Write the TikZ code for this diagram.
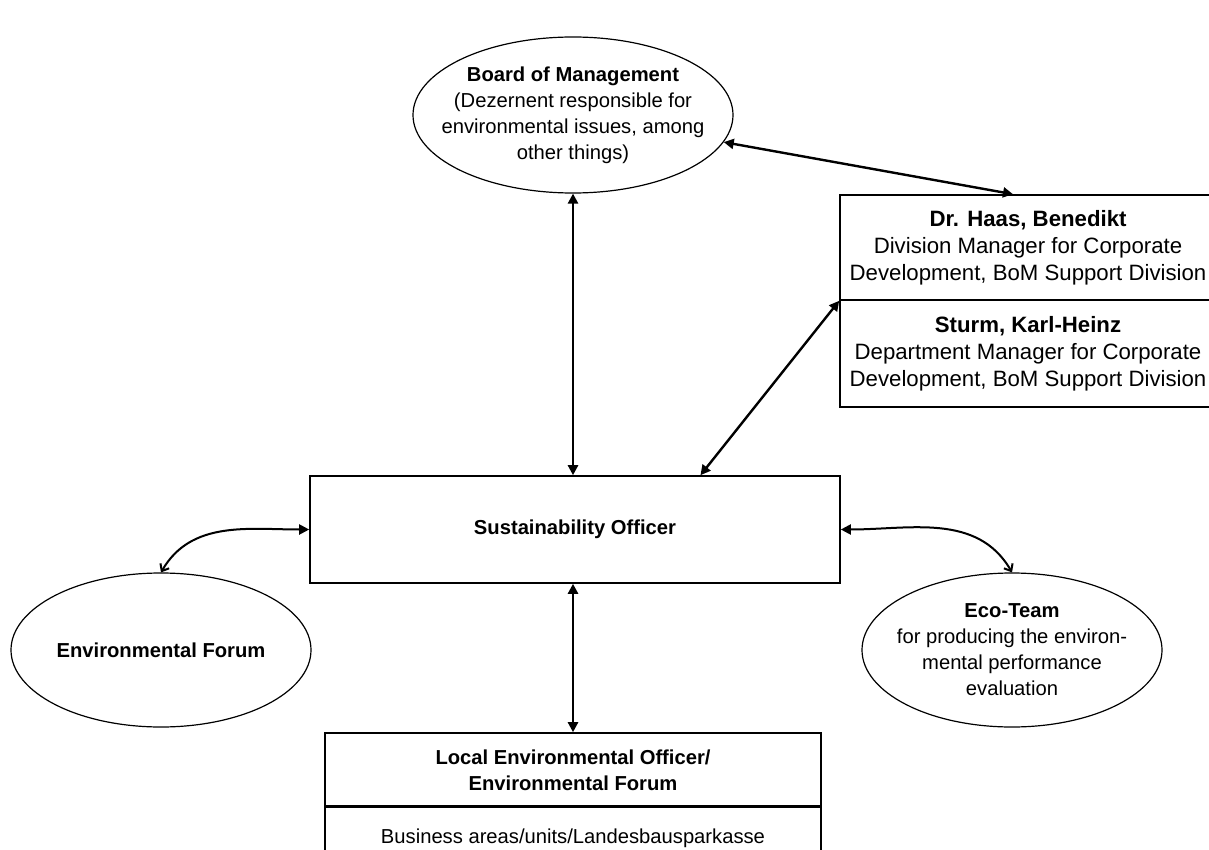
\documentclass[tikz,border=0pt]{standalone}
\usepackage{fontspec}
\setmainfont{Liberation Sans}
\usetikzlibrary{calc,positioning,shapes.geometric,arrows.meta}
\tikzset{box/.style={draw,rectangle,line width=0.8pt,inner sep=0pt,align=center,
text=black,font=\fontsize{10.1}{13}\selectfont},bubble/.style={draw,ellipse,
line width=0.6pt,inner xsep=-20pt,inner ysep=0pt,align=center,text=black,
font=\fontsize{10.1}{13}\selectfont},big/.style={font=\fontsize{11.1}{13.5}\selectfont}}
\tikzstyle{link} = [line width=1.2pt,{Triangle[length=5pt,width=5pt]}-{Triangle[length=5pt,width=5pt]}]
\tikzstyle{curl} = [line width=1pt,{Straight Barb[length=3pt,width=5pt]}-{Triangle[length=5pt,width=5pt]}]

\begin{document}
\begin{tikzpicture}[x=0.5pt,y=-0.5pt]
	\useasboundingbox (0,0) rectangle (1209,850);
		\begin{scope}[every node/.style={box}]
			\node[minimum width=265pt,minimum height=53.5pt] (sust) at (575,529.5) {\textbf{Sustainability Officer}};
			\node[big,minimum width=188pt,minimum height=52.5pt] (haas) at (1028,247.5) {\textbf{Dr. Haas, Benedikt}\\Division Manager for Corporate\\Development, BoM Support Division};
			\node[big,minimum width=188pt,minimum height=53.5pt] (sturm) at (1028,353.5) {\textbf{Sturm, Karl-Heinz}\\Department Manager for Corporate\\Development, BoM Support Division};
			\node[minimum width=248pt,minimum height=37pt] (local) at (573,770) {\textbf{Local Environmental Officer/}\\\textbf{Environmental Forum}};
			\node[minimum width=248pt,minimum height=32pt] (units) at (573,838) {Business areas/units/Landesbausparkasse};
		\end{scope}

		\begin{scope}[every node/.style={bubble}]
			\node[minimum width=160pt,minimum height=78pt] (board) at (573,115) {\textbf{Board of Management}\\(Dezernent responsible for\\environmental issues, among\\other things)};
			\node[minimum width=150pt,minimum height=77pt] (env) at (161,650) {\textbf{Environmental Forum}};
			\node[minimum width=150pt,minimum height=77pt] (eco) at (1012,650) {\textbf{Eco-Team}\\for producing the environ-\\mental performance\\evaluation};
		\end{scope}

		\begin{scope}[every edge/.style={draw=black,link}]
			\path (board.south) edge (board.south |- sust.north);
			\path (board) edge ([xshift=-7.5pt]haas.north);
			\path (haas.south west) edge ($(sust.north west)!0.736!(sust.north east)$);
			\path (sust.south -| local.north) edge (local.north);
		\end{scope}
		\draw[curl] (env.north) to[out=60,in=180] (sust.west);
		\draw[curl] (eco.north) to[out=120,in=0] (sust.east);
	\end{tikzpicture}
\end{document}
